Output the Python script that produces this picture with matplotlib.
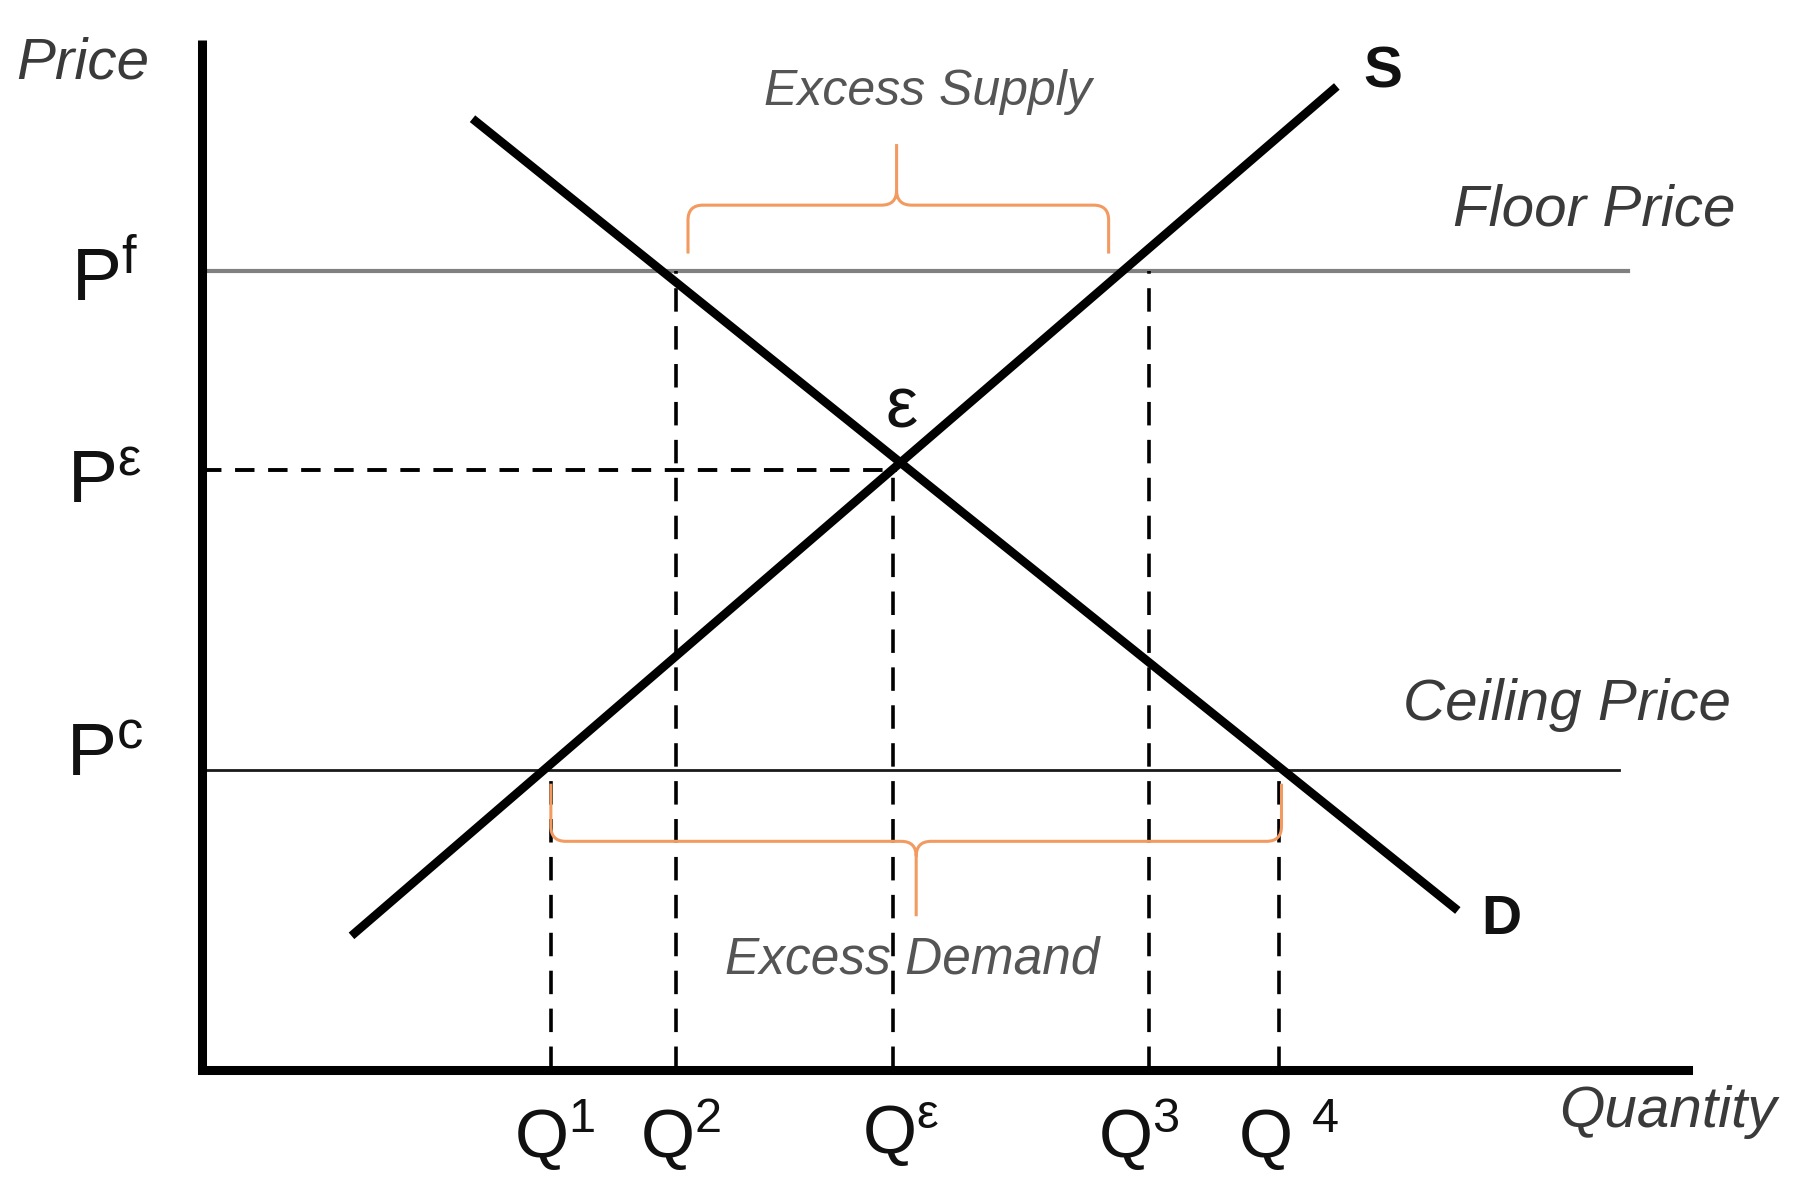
import matplotlib
matplotlib.use("Agg")
import matplotlib.pyplot as plt
from matplotlib.path import Path
from matplotlib.patches import PathPatch

plt.rcParams["font.family"] = ["Liberation Sans", "DejaVu Sans"]
plt.rcParams["mathtext.fontset"] = "custom"
plt.rcParams["mathtext.rm"] = "Liberation Sans"
plt.rcParams["mathtext.it"] = "Liberation Sans:italic"

# price levels and quantities (arbitrary units)
price_levels = {"floor": 6.93, "eq": 5.20, "ceiling": 2.60}
q_marks = [3.03, 4.12, 6.00, 8.22, 9.35]          # Q1, Q2, Qe, Q3, Q4
q_tops = [2.60, 6.93, 5.20, 6.93, 2.60]           # where each dashed drop starts
q_labels = ["Q$^{1}$", "Q$^{2}$", "Q$^{\\mathrm{ε}}$", "Q$^{3}$", "Q $^{4}$"]
q_label_pos = [3.06, 4.16, 6.07, 8.13, 9.43]
p_labels = ["P$^{\\mathrm{f}}$", "P$^{\\mathrm{ε}}$", "P$^{\\mathrm{c}}$"]
p_label_y = [6.85, 5.08, 2.71]

demand_q = [2.35, 10.90]
demand_p = [8.25, 1.38]
supply_q = [1.30, 9.85]
supply_p = [1.16, 8.53]
eq_point = (6.03, 5.20)

x_len, y_len = 12.90, 8.93

orange = "#f29a60"
txt_grey = "#3a3a3a"

fig = plt.figure(figsize=(18.07, 11.94), dpi=100)
ax = fig.add_axes([0, 0, 1, 1])
ax.set_xlim(-1.75, 13.93)
ax.set_ylim(-1.08, 9.28)
ax.axis("off")

# axes of the diagram
ax.plot([0, 0], [0, y_len], color="black", lw=6.5, solid_capstyle="butt", zorder=5)
ax.plot([0, x_len], [0, 0], color="black", lw=6.5, solid_capstyle="projecting", zorder=5)

# floor and ceiling
ax.plot([0, 12.38], [price_levels["floor"]] * 2, color="#808080", lw=3.0, zorder=2)
ax.plot([0, 12.30], [price_levels["ceiling"]] * 2, color="#1a1a1a", lw=2.0, zorder=2)

# equilibrium dashed price line
ax.plot([0, eq_point[0]], [price_levels["eq"]] * 2, color="black", lw=2.8,
        dashes=(5, 3.5), zorder=2)

# vertical dashed drops
for q, top in zip(q_marks, q_tops):
    ax.plot([q, q], [0, top], color="black", lw=2.6, dashes=(6.5, 4), zorder=2)

# demand and supply
ax.plot(demand_q, demand_p, color="black", lw=6.2, solid_capstyle="butt", zorder=4)
ax.plot(supply_q, supply_p, color="black", lw=6.2, solid_capstyle="butt", zorder=4)


def brace(x0, x1, xc, y_end, y_bar, y_tip, r=0.13):
    s = 1 if y_tip > y_bar else -1
    verts = [(x0, y_end), (x0, y_bar - s * r), (x0, y_bar), (x0 + r, y_bar),
             (xc - r, y_bar), (xc, y_bar), (xc, y_bar + s * r), (xc, y_tip),
             (xc, y_bar + s * r), (xc, y_bar), (xc + r, y_bar),
             (x1 - r, y_bar), (x1, y_bar), (x1, y_bar - s * r), (x1, y_end)]
    codes = [Path.MOVETO, Path.LINETO, Path.CURVE3, Path.CURVE3,
             Path.LINETO, Path.CURVE3, Path.CURVE3, Path.LINETO,
             Path.MOVETO, Path.CURVE3, Path.CURVE3,
             Path.LINETO, Path.CURVE3, Path.CURVE3, Path.LINETO]
    ax.add_patch(PathPatch(Path(verts, codes), fill=False, edgecolor=orange,
                           lw=2.2, zorder=3))


brace(4.22, 7.87, 6.03, 7.08, 7.50, 8.03)
brace(3.03, 9.37, 6.20, 2.48, 1.98, 1.33)

# labels
ax.text(-1.03, 8.73, "Price", fontsize=42, style="italic", color=txt_grey,
        ha="center", va="center")
for lab, y in zip(p_labels, p_label_y):
    ax.text(-0.84, y, lab, fontsize=54, color="#111111", ha="center", va="center")
for lab, x in zip(q_labels, q_label_pos):
    ax.text(x, -0.57, lab, fontsize=50, color="#111111", ha="center", va="center")

ax.text(6.30, 8.48, "Excess Supply", fontsize=36, style="italic", color="#555555",
        ha="center", va="center")
ax.text(6.17, 0.95, "Excess Demand", fontsize=37, style="italic", color="#555555",
        ha="center", va="center")
ax.text(12.08, 7.45, "Floor Price", fontsize=42, style="italic", color=txt_grey,
        ha="center", va="center")
ax.text(11.85, 3.16, "Ceiling Price", fontsize=42, style="italic", color=txt_grey,
        ha="center", va="center")
ax.text(12.72, -0.37, "Quantity", fontsize=42, style="italic", color=txt_grey,
        ha="center", va="center")
ax.text(10.25, 8.65, "S", fontsize=42, fontweight="bold", color="#111111",
        ha="center", va="center")
ax.text(11.28, 1.30, "D", fontsize=40, fontweight="bold", color="#111111",
        ha="center", va="center")
ax.text(6.07, 5.73, "ε", fontsize=52, color="#111111", ha="center", va="center")

fig.savefig("out.png", dpi=100)
